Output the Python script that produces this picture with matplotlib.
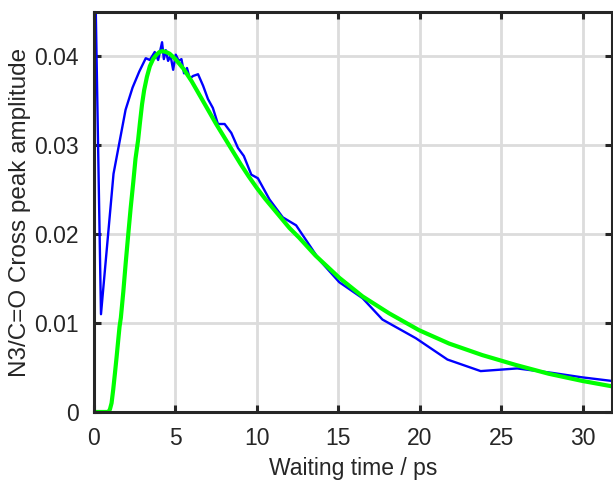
import matplotlib
matplotlib.use("Agg")
import matplotlib.pyplot as plt

plt.rcParams['font.family'] = ['Liberation Sans', 'DejaVu Sans']

# Measured cross-peak amplitude versus waiting time
t_data = [0.0, 0.43, 1.2, 1.94, 2.37, 2.78, 3.18, 3.43, 3.73, 3.94, 4.18, 4.29,
          4.41, 4.55, 4.7, 4.86, 5.02, 5.2, 5.37, 5.53, 5.71, 5.88, 6.08, 6.39,
          6.7, 7.0, 7.3, 7.61, 8.02, 8.43, 8.84, 9.2, 9.66, 10.06, 10.78, 11.59,
          12.41, 13.84, 15.06, 16.49, 17.71, 19.76, 21.7, 23.74, 25.98, 28.13,
          29.96, 31.76, 33.0]
amp_data = [0.057, 0.011, 0.0268, 0.034, 0.0365, 0.0383, 0.0398, 0.0396, 0.0405,
            0.0396, 0.0416, 0.0397, 0.0407, 0.0395, 0.0401, 0.0385, 0.0402,
            0.0395, 0.0397, 0.0381, 0.0387, 0.0375, 0.0378, 0.038, 0.0367,
            0.0352, 0.0342, 0.0324, 0.0324, 0.0314, 0.0297, 0.0288, 0.0267,
            0.0263, 0.0239, 0.0219, 0.021, 0.0171, 0.0146, 0.0128, 0.0104,
            0.0083, 0.0059, 0.0046, 0.0049, 0.0044, 0.0039, 0.0035, 0.0033]

# Rise-and-decay fit curve
t_fit = [0.0, 0.5, 0.88, 0.98, 1.08, 1.18, 1.29, 1.39, 1.49, 1.57, 1.65, 1.8,
         1.95, 2.1, 2.25, 2.41, 2.55, 2.71, 2.82, 2.95, 3.08, 3.25, 3.43, 3.63,
         3.84, 4.02, 4.21, 4.43, 4.65, 5.0, 5.5, 6.0, 6.5, 7.0, 7.5, 8.0, 8.5,
         9.0, 9.5, 10.0, 10.5, 11.0, 11.5, 12.0, 12.6, 13.6, 15.06, 16.49,
         18.12, 19.96, 21.8, 23.84, 25.88, 27.92, 29.96, 31.76, 33.0]
amp_fit = [0.0, 0.0, 0.0, 0.0003, 0.001, 0.0025, 0.0044, 0.0062, 0.0081, 0.0096,
           0.0106, 0.0135, 0.0168, 0.0199, 0.0229, 0.0258, 0.0285, 0.0306,
           0.0325, 0.0346, 0.0362, 0.0377, 0.0389, 0.0397, 0.0402, 0.0405,
           0.0406, 0.0405, 0.0403, 0.0397, 0.0386, 0.0372, 0.0356, 0.034,
           0.0324, 0.0309, 0.0294, 0.0279, 0.0265, 0.0252, 0.024, 0.0229,
           0.0218, 0.0207, 0.0196, 0.0176, 0.0151, 0.013, 0.0111, 0.0092,
           0.0077, 0.0064, 0.0053, 0.0043, 0.0035, 0.0029, 0.0025]

x_ticks = [0, 5, 10, 15, 20, 25, 30]
y_ticks = [0, 0.01, 0.02, 0.03, 0.04]
y_tick_labels = ['0', '0.01', '0.02', '0.03', '0.04']

fig = plt.figure(figsize=(6.13, 4.8), dpi=100)
ax = fig.add_axes([0.1533, 0.1417, 0.8450, 0.8333])

ax.plot(t_data, amp_data, color='#0000ff', lw=1.7, zorder=3)
ax.plot(t_fit, amp_fit, color='#00ff00', lw=3.0, zorder=4)

ax.set_xlim(0, 31.8)
ax.set_ylim(0, 0.045)
ax.set_xticks(x_ticks)
ax.set_yticks(y_ticks)
ax.set_yticklabels(y_tick_labels)

ax.grid(True, color='#dcdcdc', lw=2.0, zorder=0)
ax.set_axisbelow(True)

for s in ax.spines.values():
    s.set_color('#262626')
    s.set_linewidth(2.2)
    s.set_zorder(5)

ax.tick_params(axis='both', which='major', direction='in', length=5, width=2.2,
               color='#262626', labelcolor='#262626', labelsize=16.5,
               top=True, right=True, pad=11)

ax.set_xlabel('Waiting time / ps', fontsize=16.5, color='#262626', labelpad=5)
ax.set_ylabel('N3/C=O Cross peak amplitude', fontsize=17.5, color='#262626', labelpad=2)

fig.savefig('out.png', dpi=100)
